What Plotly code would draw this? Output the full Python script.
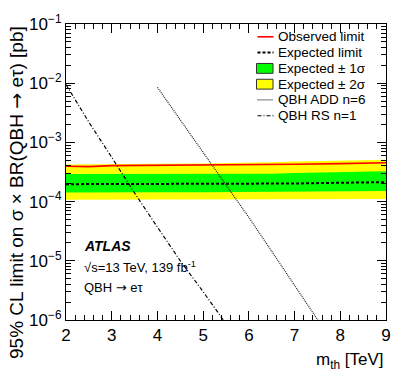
import plotly.graph_objects as go

# ATLAS QBH -> e tau limit plot

# limit curves (m_th in TeV, cross section in pb)
mass = [2.0, 2.5, 3.0, 4.0, 5.0, 6.0, 6.5, 7.0, 8.0, 9.0]
observed = [3.95e-4, 3.9e-4, 4.05e-4, 4.1e-4, 4.1e-4, 4.15e-4, 4.2e-4, 4.28e-4, 4.38e-4, 4.52e-4]
expected = [1.97e-4, 1.97e-4, 1.98e-4, 2.0e-4, 2.0e-4, 1.98e-4, 1.97e-4, 2.02e-4, 2.08e-4, 2.13e-4]
exp_1s_up = [2.93e-4, 2.93e-4, 2.95e-4, 2.97e-4, 2.97e-4, 2.96e-4, 2.96e-4, 3.05e-4, 3.15e-4, 3.25e-4]
exp_1s_dn = [1.43e-4, 1.43e-4, 1.43e-4, 1.44e-4, 1.44e-4, 1.43e-4, 1.43e-4, 1.46e-4, 1.49e-4, 1.51e-4]
exp_2s_up = [4.25e-4, 4.25e-4, 4.3e-4, 4.35e-4, 4.4e-4, 4.5e-4, 4.6e-4, 4.75e-4, 4.95e-4, 5.1e-4]
exp_2s_dn = [1.07e-4, 1.07e-4, 1.08e-4, 1.08e-4, 1.08e-4, 1.09e-4, 1.1e-4, 1.1e-4, 1.1e-4, 1.11e-4]

# theory curves
add_mass = [4.0, 4.5, 5.0, 5.5, 6.0, 6.5, 7.0, 7.5, 8.0]
add_xsec = [8.5e-3, 2.4e-3, 6.9e-4, 1.95e-4, 5.4e-5, 1.45e-5, 3.9e-6, 1.02e-6, 2.7e-7]
rs_mass = [2.0, 2.5, 3.0, 3.5, 4.0, 4.5, 5.0, 5.5, 6.0]
rs_xsec = [9.5e-3, 2.2e-3, 5.6e-4, 1.4e-4, 3.7e-5, 1.0e-5, 3.0e-6, 8.5e-7, 2.5e-7]

y_tickvals = [1e-6, 1e-5, 1e-4, 1e-3, 1e-2, 1e-1]
y_ticktext = ["10<sup>−6</sup>", "10<sup>−5</sup>", "10<sup>−4</sup>",
              "10<sup>−3</sup>", "10<sup>−2</sup>", "10<sup>−1</sup>"]
minor_y = [m * 10.0**e for e in range(-6, -1) for m in range(2, 10)]

FONT = "Liberation Sans, Arial, Helvetica, sans-serif"
ARROW = "<span style='font-family:DejaVu Sans'>→</span>"

obs_line = dict(color="#ff0000", width=1.6)
exp_line = dict(color="black", width=2, dash="3px,2px")
add_line = dict(color="#222222", width=1.2, dash="1px,1px")
rs_line = dict(color="black", width=1.2, dash="4px,2px,1px,2px")

fig = go.Figure()

# +-2 sigma band
fig.add_trace(go.Scatter(x=mass + mass[::-1], y=exp_2s_up + exp_2s_dn[::-1],
                         fill="toself", fillcolor="#ffff00", line=dict(width=0),
                         mode="lines", hoverinfo="skip"))
# +-1 sigma band
fig.add_trace(go.Scatter(x=mass + mass[::-1], y=exp_1s_up + exp_1s_dn[::-1],
                         fill="toself", fillcolor="#00ff00", line=dict(width=0),
                         mode="lines", hoverinfo="skip"))
fig.add_trace(go.Scatter(x=mass, y=expected, mode="lines", line=exp_line))
fig.add_trace(go.Scatter(x=mass, y=observed, mode="lines", line=obs_line))
fig.add_trace(go.Scatter(x=add_mass, y=add_xsec, mode="lines", line=add_line))
fig.add_trace(go.Scatter(x=rs_mass, y=rs_xsec, mode="lines", line=rs_line))

# hand-made ROOT-like legend (paper coordinates)
def px_x(px):
    return (px - 65.5) / 320.0

def px_y(py):
    return 1 - (py - 20.0) / 300.0

legend_items = ["Observed limit", "Expected limit", "Expected ± 1σ",
                "Expected ± 2σ", "QBH ADD n=6", "QBH RS n=1"]
legend_rows = [33, 49, 65, 81, 97, 113]
for label, row in zip(legend_items, legend_rows):
    fig.add_annotation(x=px_x(275), y=px_y(row), xref="paper", yref="paper",
                       text=label, showarrow=False, xanchor="left", yanchor="middle",
                       font=dict(size=13.5, color="black", family=FONT))

line_styles = [obs_line, exp_line, None, None, add_line, rs_line]
box_colors = [None, None, "#00ff00", "#ffff00", None, None]
for row, ls, bc in zip(legend_rows, line_styles, box_colors):
    if ls is not None:
        fig.add_shape(type="line", xref="paper", yref="paper",
                      x0=px_x(257), x1=px_x(273), y0=px_y(row), y1=px_y(row), line=ls)
    else:
        fig.add_shape(type="rect", xref="paper", yref="paper",
                      x0=px_x(256), x1=px_x(272.5), y0=px_y(row - 5), y1=px_y(row + 5),
                      fillcolor=bc, line=dict(color="#333333", width=1))

# ATLAS label block
fig.add_annotation(x=px_x(81), y=px_y(255), xref="paper", yref="paper",
                   text="<b><i>ATLAS</i></b>", showarrow=False, xanchor="left",
                   font=dict(size=14, color="black", family=FONT))
fig.add_annotation(x=px_x(81), y=px_y(276), xref="paper", yref="paper",
                   text="√s=13 TeV, 139 fb<sup>-1</sup>", showarrow=False, xanchor="left",
                   font=dict(size=13, color="black", family=FONT))
fig.add_annotation(x=px_x(81), y=px_y(297), xref="paper", yref="paper",
                   text="QBH " + ARROW + " eτ", showarrow=False, xanchor="left",
                   font=dict(size=13, color="black", family=FONT))

# axis titles, ROOT style (aligned to the axis ends)
fig.add_annotation(x=px_x(15), y=1, xref="paper", yref="paper",
                   text="95% CL limit on σ × BR(QBH " + ARROW + " eτ) [pb]", textangle=-90,
                   showarrow=False, xanchor="center", yanchor="top",
                   font=dict(size=19, color="black", family=FONT))
fig.add_annotation(x=1, y=px_y(362), xref="paper", yref="paper",
                   text="m<sub>th</sub> [TeV]", showarrow=False,
                   xanchor="right", yanchor="middle",
                   font=dict(size=17, color="black", family=FONT))

fig.update_layout(
    width=407, height=383,
    margin=dict(l=66, r=21, t=20, b=63),
    paper_bgcolor="white", plot_bgcolor="white",
    showlegend=False,
    font=dict(family=FONT, color="black"),
)
fig.update_xaxes(range=[2, 9], dtick=1, ticks="inside", ticklen=9, tickwidth=1,
                 tickcolor="black", showline=True, linecolor="black", linewidth=1,
                 mirror="ticks", showgrid=False, zeroline=False,
                 tickfont=dict(size=17, family=FONT, color="black"),
                 minor=dict(dtick=0.2, ticks="inside", ticklen=5, tickcolor="black",
                            showgrid=False))
fig.update_yaxes(type="log", range=[-6, -1], tickvals=y_tickvals, ticktext=y_ticktext,
                 ticks="inside", ticklen=9, tickwidth=1, tickcolor="black",
                 showline=True, linecolor="black", linewidth=1, mirror="ticks",
                 showgrid=False, zeroline=False,
                 tickfont=dict(size=17, family=FONT, color="black"),
                 minor=dict(tickvals=minor_y, ticks="inside", ticklen=5,
                            tickcolor="black", showgrid=False))

# the page body has a default 8px margin; drop it so the figure sits at 0,0
fig.write_html("out.html", config={"displayModeBar": False},
               post_script="document.body.style.margin='0px';")
